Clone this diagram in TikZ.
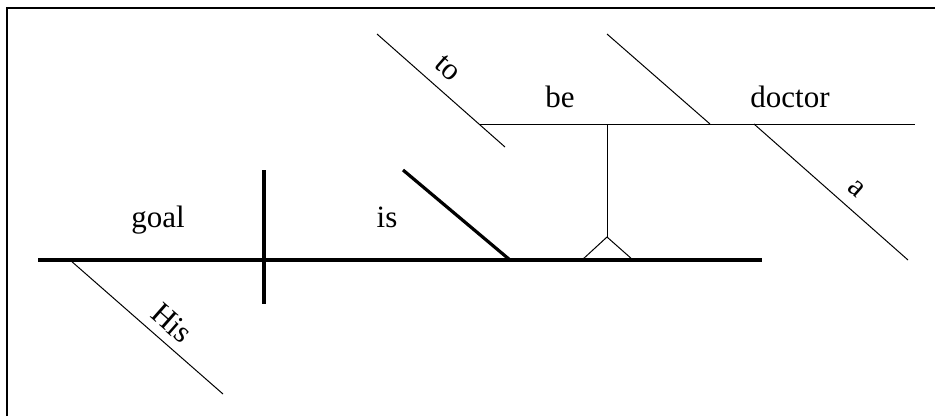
\documentclass[tikz,border=0pt]{standalone}
\usepackage{fontspec}
\setmainfont{Liberation Serif}
\usepackage{tikz}

\begin{document}
\begin{tikzpicture}[
    x=1pt, y=-1pt,
    mainline/.style={line width=3.2pt},
    thinline/.style={line width=1pt},
    word/.style={inner sep=0pt, font=\fontsize{31}{31}\selectfont},
    slantword/.style={word, rotate=-41.4}
]
\useasboundingbox (0,0) rectangle (935,416);

% Frame
\draw[line width=2pt] (7,416) -- (7,7.5) -- (935,7.5);

% Main clause
\coordinate (start) at (38,260);
\coordinate (finish) at (762,260);
\coordinate (hisfoot) at (70,260);
\coordinate (isfoot) at (510,260);
\draw[mainline] (start) -- (finish);
\draw[mainline] (264,170) -- (264,304);
\draw[mainline] (403,170) -- (isfoot);
\draw[thinline] (hisfoot) -- (223,394);

\node[word, anchor=base] (goal) at (158,227) {goal};
\node[word, anchor=base] (is) at (387,227) {is};
\node[slantword] (his) at (172,323) {His};

% Pedestal
\coordinate (apex) at (607,237);
\coordinate (top) at (607,124);
\draw[thinline] (top) -- (apex);
\draw[thinline] (582,260) -- (apex) -- (633,260);

% Infinitive phrase
\draw[thinline] (480,124) -- (915,124);
\draw[thinline] (377,34) -- (505,147);
\draw[thinline] (607,34) -- (710,124);
\draw[thinline] (754,124) -- (908,260);

\node[word, anchor=base] (be) at (560,107) {be};
\node[word, anchor=base] (doctor) at (790,107) {doctor};
\node[slantword] (to) at (448,68) {to};
\node[slantword] (a) at (856,189) {a};

\end{tikzpicture}
\end{document}
